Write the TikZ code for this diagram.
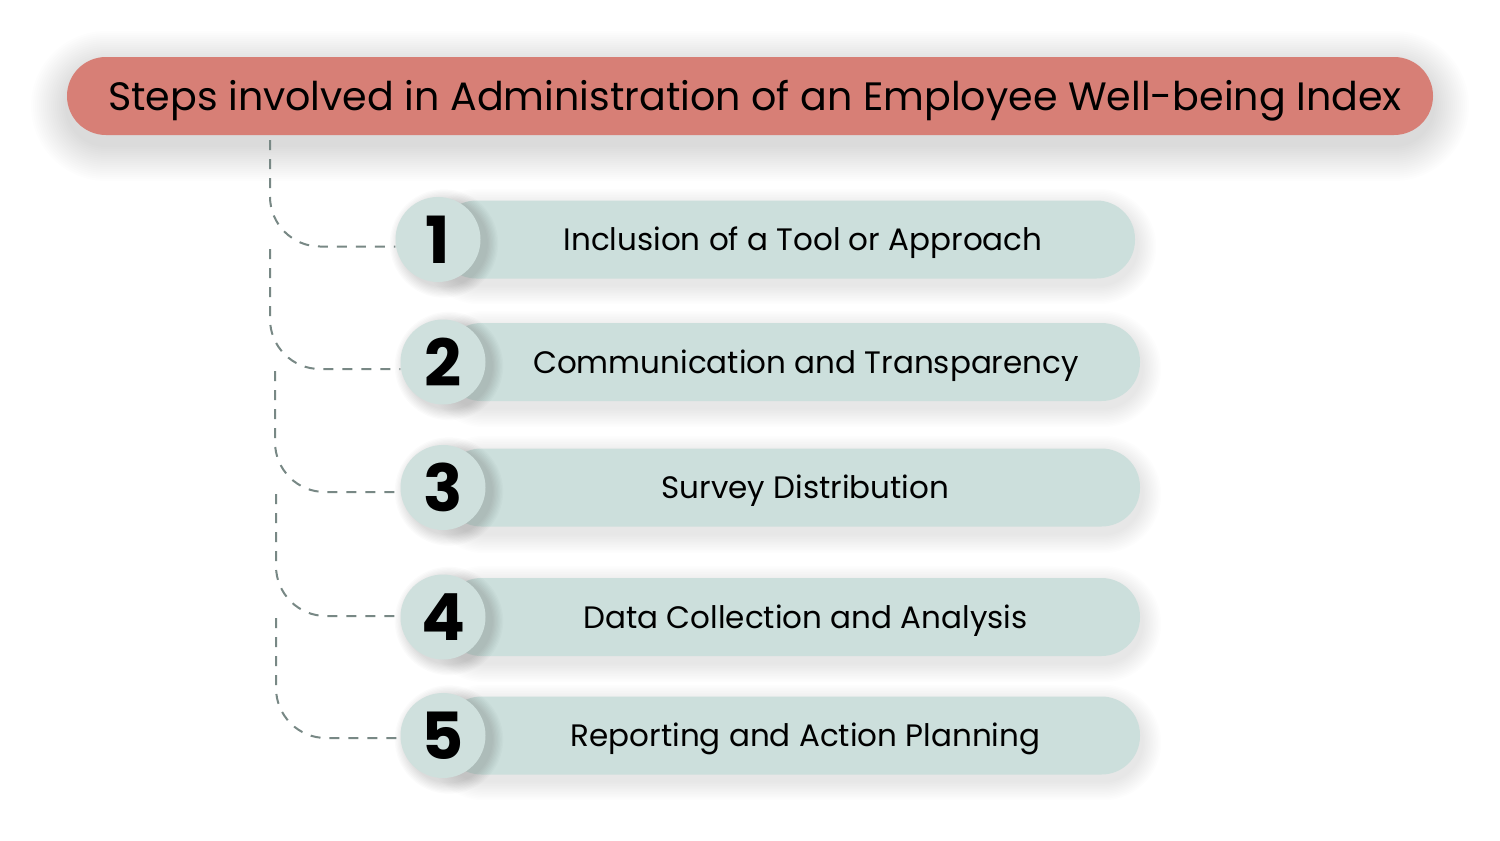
\documentclass[tikz,border=0pt]{standalone}
\usepackage{fontspec}
\setmainfont{Poppins}
\definecolor{titlered}{HTML}{D77F76}
\definecolor{mint}{HTML}{CCDFDC}
\definecolor{mintc}{HTML}{CFE0DD}
\definecolor{dashgray}{HTML}{788885}
% soft shadow of a pill: x1 y1 x2 y2 (top-left, bottom-right), x shift, y shift, layers, step, opacity
\newcommand\pillshadow[9]{%
  \foreach \k in {1,...,#7}{%
    \pgfmathsetmacro\rr{(#4-#2)/2+\k*#8}%
    \fill[black, opacity=#9, rounded corners=\rr pt]
      ({#1-\k*#8+#5},{#2-\k*#8+#6}) rectangle ({#3+\k*#8+#5},{#4+\k*#8+#6});
  }%
}
\newcommand\discshadow[6]{% cx cy r layers step opacity
  \foreach \k in {1,...,#4}{%
    \fill[black, opacity=#6] (#1,#2) circle ({#3+\k*#5});
  }%
}
\begin{document}
\begin{tikzpicture}[x=1pt,y=-1pt,
  titlebox/.style={fill=titlered, rounded corners=38.9pt, minimum width=1366pt, minimum height=78pt, inner sep=0pt,
    font=\fontsize{39.6}{48}\selectfont, text height=28pt, text depth=0pt},
  barbox/.style={fill=mint, rounded corners=38.5pt, minimum width=697pt, minimum height=78pt, inner sep=0pt},
  numcircle/.style={circle, fill=mintc, minimum size=85pt, inner sep=0pt,
    font=\fontsize{65}{65}\selectfont\bfseries},
  bartext/.style={font=\fontsize{31}{37}\selectfont, inner sep=0pt, text height=22pt, text depth=0pt},
  conn/.style={draw=dashgray, line width=2pt, dash pattern=on 10pt off 9pt, rounded corners=50pt}
]
\fill[white] (0,0) rectangle (1500,841);
\useasboundingbox (0,0) rectangle (1500,841);

% shadows
\pillshadow{67}{57}{1433}{135}{0}{10}{18}{2}{0.006}
\pillshadow{438}{201}{1135}{278}{2}{7}{12}{1.6}{0.006}
\pillshadow{443}{323}{1140}{401}{2}{7}{12}{1.6}{0.006}
\pillshadow{443}{448}{1140}{527}{2}{7}{12}{1.6}{0.006}
\pillshadow{443}{578}{1140}{656}{2}{7}{12}{1.6}{0.006}
\pillshadow{443}{697}{1140}{774}{2}{7}{12}{1.6}{0.006}

% title
\node[titlebox] (title) at (750,96) {\hspace*{10pt}Steps involved in Administration of an Employee Well-being Index};

% bars
\node[barbox] (b1) at (786.5,239.5) {};
\node[barbox] (b2) at (791.5,362) {};
\node[barbox] (b3) at (791.5,487.5) {};
\node[barbox] (b4) at (791.5,617) {};
\node[barbox] (b5) at (791.5,735.5) {};

% circle shadows
\discshadow{444}{243.5}{42.5}{9}{1.3}{0.015}
\discshadow{449}{366}{42.5}{9}{1.3}{0.015}
\discshadow{449}{491.5}{42.5}{9}{1.3}{0.015}
\discshadow{449}{621}{42.5}{9}{1.3}{0.015}
\discshadow{449}{739.5}{42.5}{9}{1.3}{0.015}

% circles
\node[numcircle] (c1) at (438,239.5) {1};
\node[numcircle] (c2) at (443,362) {2};
\node[numcircle] (c3) at (443,487.5) {3};
\node[numcircle] (c4) at (443,617) {4};
\node[numcircle] (c5) at (443,735.5) {5};

% texts
\node[bartext] (t1) at (803,239.5) {Inclusion of a Tool or Approach};
\node[bartext] (t2) at (806,362) {Communication and Transparency};
\node[bartext] (t3) at (805.5,487.5) {Survey Distribution};
\node[bartext] (t4) at (805.5,617) {Data Collection and Analysis};
\node[bartext] (t5) at (805.5,735.5) {Reporting and Action Planning};

% connectors
\coordinate (s1) at (270,140);
\coordinate (s2) at (270,249);
\coordinate (s3) at (275,371);
\coordinate (s4) at (276,494);
\coordinate (s5) at (276,618);
\draw[conn] (s1) |- ([yshift=-7pt]c1.west);
\draw[conn] (s2) |- ([yshift=-7pt]c2.west);
\draw[conn] (s3) |- ([yshift=-4.5pt]c3.west);
\draw[conn] (s4) |- ([yshift=1pt]c4.west);
\draw[conn] (s5) |- ([yshift=-2.5pt]c5.west);
\end{tikzpicture}
\end{document}
